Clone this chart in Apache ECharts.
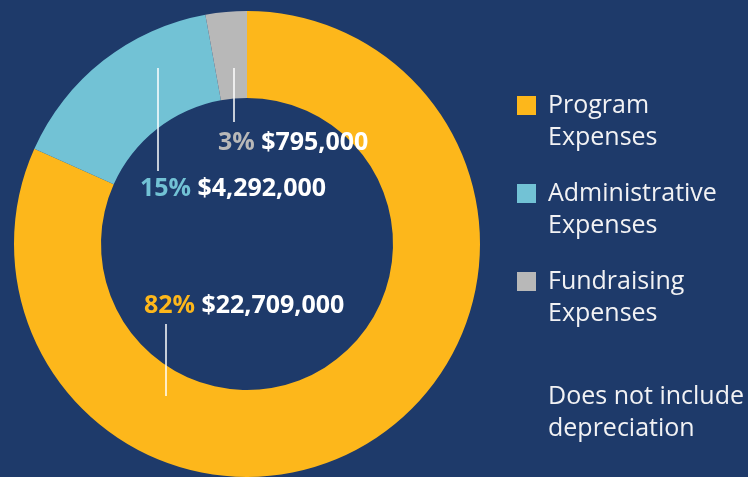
<!DOCTYPE html>
<html>
<head>
<meta charset="utf-8">
<script src="https://cdn.jsdelivr.net/npm/echarts@6/dist/echarts.min.js"></script>
<style>
  html, body { margin: 0; padding: 0; background: #1e3a6a; }
  #chart { width: 748px; height: 477px; }
</style>
</head>
<body>
<div id="chart"></div>
<script>
// Expense categories and amounts (USD)
const categories = ['Program Expenses', 'Administrative Expenses', 'Fundraising Expenses'];
const legendLines = [['Program', 'Expenses'], ['Administrative', 'Expenses'], ['Fundraising', 'Expenses']];
const amounts = [22709000, 4292000, 795000];
const colors = ['#fdb71b', '#72c2d5', '#b8b8b8'];
const footnote = ['Does not include', 'depreciation'];

const total = amounts.reduce((a, b) => a + b, 0);
const pct = amounts.map(v => Math.round(v / total * 100));
const money = v => '$' + v.toLocaleString('en-US');

// Callout placement inside the hole: text anchor plus a vertical leader line
const callouts = [
  { x: 144, y: 306, line: [166, 324, 396] },
  { x: 140, y: 189, line: [158, 68, 171] },
  { x: 218, y: 143, line: [234, 68, 122] }
];

const fontFamily = '"Open Sans", "Noto Sans", sans-serif';
const textColor = '#f2f2f4';

// Legend block: square swatch + two-line caption per category
const legendLeft = 517, legendTop = 96, legendStep = 88, swatch = 19, lineH = 32;
const graphics = [];
categories.forEach((name, i) => {
  const top = legendTop + i * legendStep;
  graphics.push({
    type: 'rect',
    shape: { x: legendLeft, y: top, width: swatch, height: swatch },
    style: { fill: colors[i] }
  });
  graphics.push({
    type: 'text',
    x: legendLeft + 31,
    y: top + swatch / 2 - lineH / 2,
    style: {
      text: legendLines[i].join('\n'),
      fill: textColor,
      font: '25px ' + fontFamily,
      lineHeight: lineH
    }
  });
});
graphics.push({
  type: 'text',
  x: 548,
  y: 381,
  style: {
    text: footnote.join('\n'),
    fill: textColor,
    font: '25px ' + fontFamily,
    lineHeight: lineH
  }
});
// White leader lines drawn over the ring
callouts.forEach(c => {
  graphics.push({
    type: 'line',
    z: 100,
    shape: { x1: c.line[0], y1: c.line[1], x2: c.line[0], y2: c.line[2] },
    style: { stroke: '#ffffff', lineWidth: 1.5 }
  });
});

const chart = echarts.init(document.getElementById('chart'), null, { renderer: 'canvas' });

chart.setOption({
  backgroundColor: '#1e3a6a',
  animation: false,
  graphic: graphics,
  series: [{
    type: 'pie',
    center: [247, 244],
    radius: [146, 233],
    startAngle: 90,
    clockwise: true,
    avoidLabelOverlap: false,
    emphasis: { disabled: true },
    data: categories.map((name, i) => ({
      name: name,
      value: amounts[i],
      itemStyle: { color: colors[i] },
      label: {
        rich: {
          p: { color: colors[i], fontSize: 25, fontWeight: 'bold', fontFamily: fontFamily },
          v: { color: '#ffffff', fontSize: 25, fontWeight: 'bold', fontFamily: fontFamily, padding: [0, 0, 0, 3] }
        }
      }
    })),
    label: {
      show: true,
      position: 'outside',
      formatter: p => '{p|' + pct[p.dataIndex] + '%} {v|' + money(amounts[p.dataIndex]) + '}'
    },
    labelLine: { show: false },
    labelLayout: p => {
      const c = callouts[p.dataIndex];
      return { x: c.x, y: c.y, align: 'left', verticalAlign: 'middle' };
    }
  }]
});
</script>
</body>
</html>
